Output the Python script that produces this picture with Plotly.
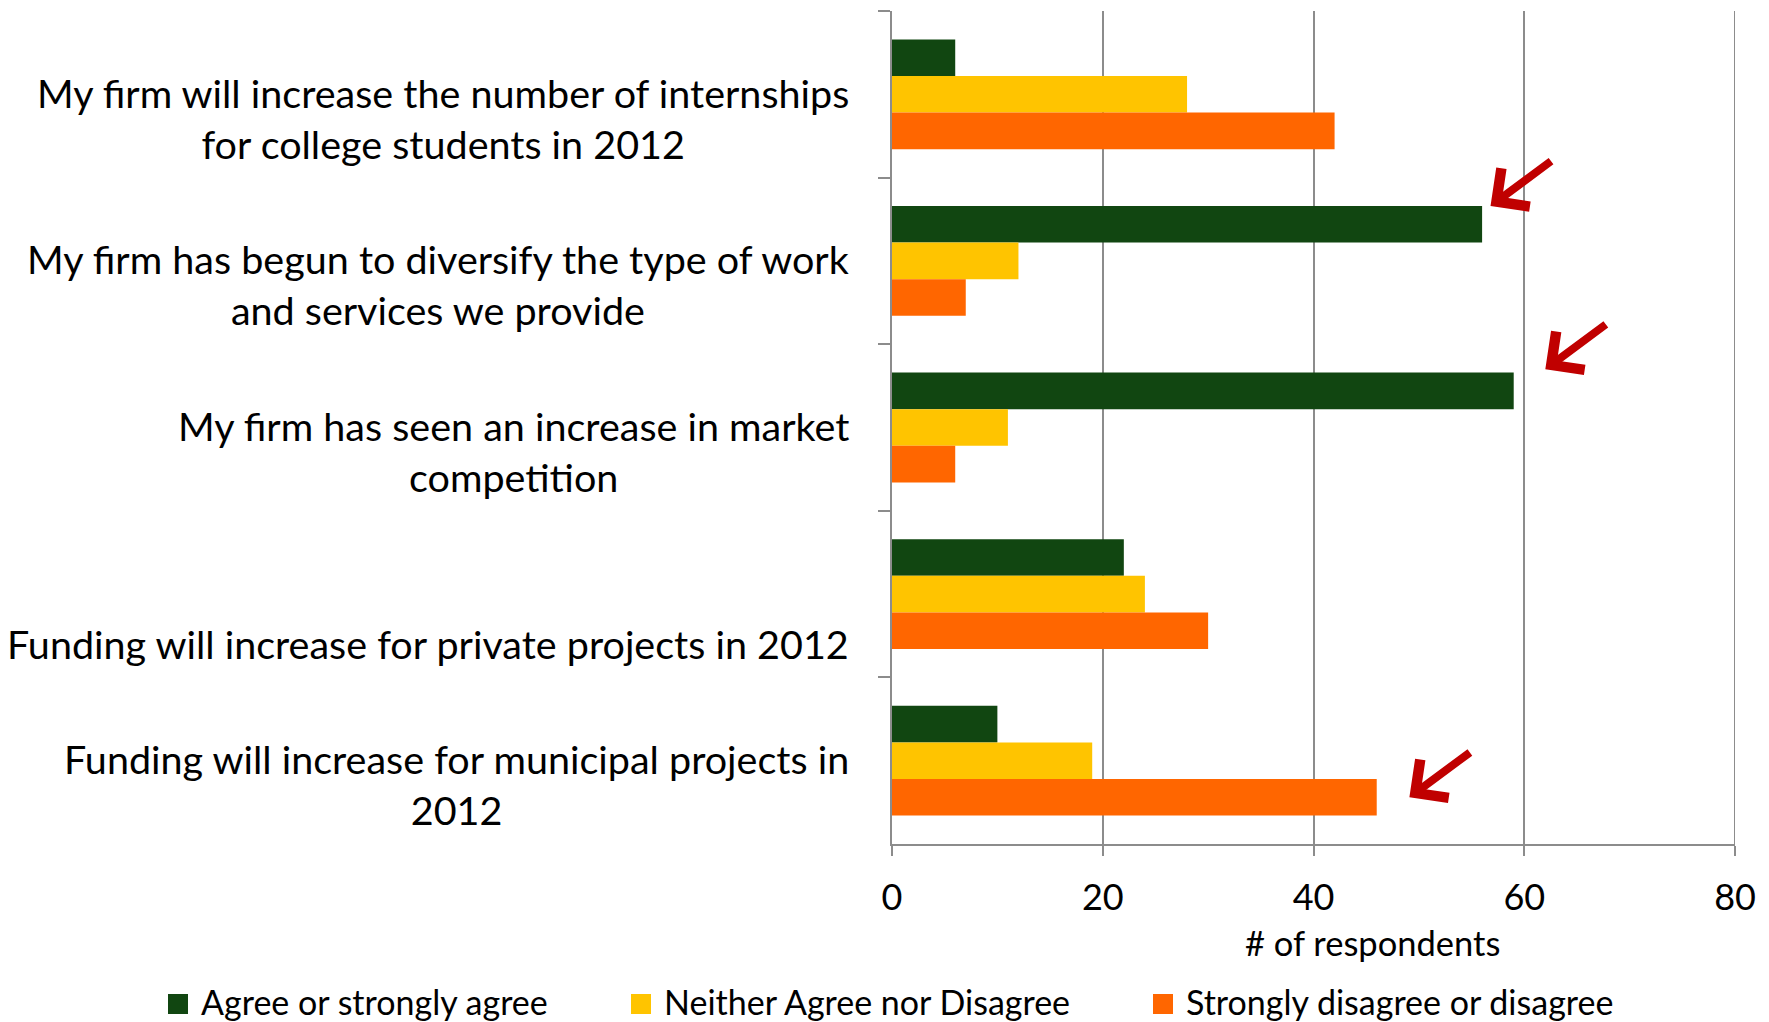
import plotly.graph_objects as go

# Survey statements (top to bottom) and respondent counts per answer group
statements = [
    "My firm will increase the number of internships<br>for college students in 2012",
    "My firm has begun to diversify the type of work<br>and services we provide",
    "My firm has seen an increase in market<br>competition",
    "Funding will increase for private projects in 2012",
    "Funding will increase for municipal projects in<br>2012",
]
agree = [6, 56, 59, 22, 10]
neutral = [28, 12, 11, 24, 19]
disagree = [42, 7, 6, 30, 46]

series_names = ["Agree or strongly agree", "Neither Agree nor Disagree", "Strongly disagree or disagree"]
series_values = [agree, neutral, disagree]
series_colors = ["#114611", "#FFC400", "#FF6600"]

x_ticks = [0, 20, 40, 60, 80]
x_title = "# of respondents"

# Callout arrows: (series index, statement index)
highlights = [(0, 1), (0, 2), (2, 4)]

FONT = "Lato"
GRID = "#8C8C8C"

W, H = 1769, 1022
L, R, T, B = 892, 34, 11, 178
plot_w = W - L - R
plot_h = H - T - B

fig = go.Figure()
for name, vals, col in zip(series_names, series_values, series_colors):
    fig.add_trace(go.Bar(
        y=statements, x=vals, name=name, orientation="h",
        marker=dict(color=col, line=dict(width=0)),
        showlegend=False,
    ))

annotations = []
shapes = []

# Category labels: right-aligned block, lines centred, first line on category centre
label_size = 39.5
line_h = 1.3 * label_size
for i, lab in enumerate(statements):
    lead = line_h if "<br>" not in lab else 0
    annotations.append(dict(
        text=lab, xref="paper", yref="y", x=-41 / plot_w, y=i,
        xanchor="right", yanchor="top", align="center", showarrow=False,
        yshift=line_h / 2 + 2 - lead,
        font=dict(family=FONT, size=label_size, color="black"),
    ))

# Axis title
annotations.append(dict(
    text=x_title, xref="paper", yref="paper",
    x=(1372 - L) / plot_w, y=-(942 - (H - B)) / plot_h,
    xanchor="center", yanchor="middle", showarrow=False,
    font=dict(family=FONT, size=34.5, color="black"),
))

# Callout arrows pointing at the highlighted bars
group_w = 1 - 0.341
bar_h = group_w / 3
head_pad = [0.8, 3.0, 3.1]
for k, (s, c) in enumerate(highlights):
    val = series_values[s][c]
    y_off = -group_w / 2 + bar_h * (s + 0.5)
    if s == 0:
        y_off = -group_w / 2 - 0.02 * k
    annotations.append(dict(
        x=val + head_pad[k], y=c + y_off, xref="x", yref="y",
        ax=62, ay=-46, showarrow=True, text="",
        arrowhead=4, arrowsize=1.15, arrowwidth=8, arrowcolor="#C00000",
    ))

# Legend along the bottom
leg_y = -(1001 - (H - B)) / plot_h
leg_marker_x = [178, 641, 1163]
for name, col, mx in zip(series_names, series_colors, leg_marker_x):
    shapes.append(dict(
        type="rect", xref="paper", yref="paper",
        xsizemode="pixel", ysizemode="pixel",
        xanchor=(mx - L) / plot_w, yanchor=-(1004 - (H - B)) / plot_h,
        x0=-10, x1=10, y0=-10, y1=10,
        fillcolor=col, line=dict(width=0),
    ))
    annotations.append(dict(
        text=name, xref="paper", yref="paper",
        x=(mx + 21 - L) / plot_w, y=leg_y,
        xanchor="left", yanchor="middle", showarrow=False,
        font=dict(family=FONT, size=34, color="black"),
    ))

# Gridline at the far end of the value axis
shapes.append(dict(
    type="line", xref="x", yref="paper",
    x0=x_ticks[-1], x1=x_ticks[-1], y0=0, y1=1,
    line=dict(color=GRID, width=2), layer="below",
))

fig.update_layout(
    width=W, height=H,
    margin=dict(l=L, r=R, t=T, b=B, pad=0),
    paper_bgcolor="white", plot_bgcolor="white",
    barmode="group", bargap=0.341, bargroupgap=0,
    showlegend=False,
    annotations=annotations, shapes=shapes,
    font=dict(family=FONT, color="black"),
    xaxis=dict(
        range=[0, 80], tickvals=x_ticks, ticktext=[str(v) for v in x_ticks],
        showgrid=True, gridcolor=GRID, gridwidth=2,
        showline=True, linecolor=GRID, linewidth=2,
        ticks="outside", ticklen=10, tickwidth=2, tickcolor=GRID,
        zeroline=False, tickfont=dict(family=FONT, size=36, color="black"),
        ticklabelstandoff=11,
    ),
    yaxis=dict(
        type="category", autorange=False, range=[4.5, -0.5],
        showticklabels=False, showgrid=False,
        showline=True, linecolor=GRID, linewidth=2,
        ticks="outside", tickson="boundaries", ticklen=12, tickwidth=2, tickcolor=GRID,
    ),
)

fig.write_html("out.html")
